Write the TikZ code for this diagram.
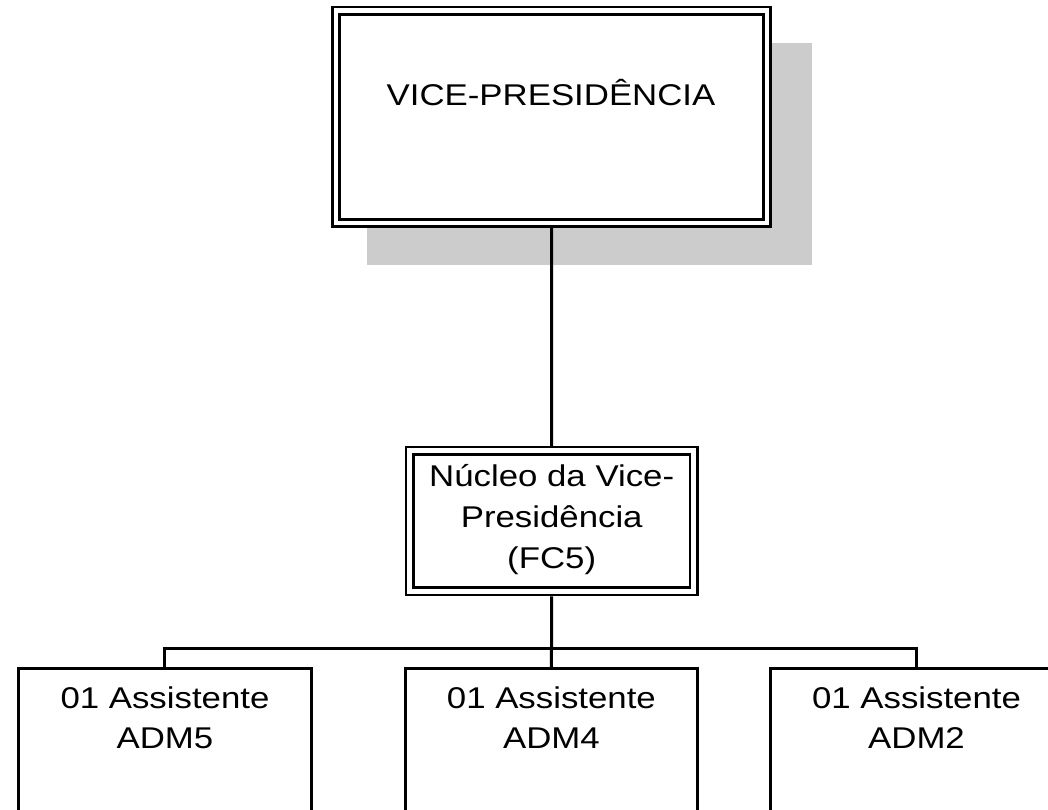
\documentclass[tikz,border=0pt]{standalone}
\usepackage{fontspec}
\setmainfont{Liberation Sans}[FakeStretch=1.16]
\definecolor{shadowgray}{HTML}{CCCCCC}
\begin{document}
\begin{tikzpicture}[x=1pt,y=-1pt,
  dbox/.style={draw, fill=white, double, double distance=4.6pt, line width=2.7pt,
    inner sep=0pt, outer sep=5pt},
  sbox/.style={draw, fill=white, line width=3pt, inner sep=0pt, outer sep=0pt,
    minimum height=170pt, anchor=north},
  conn/.style={line width=3pt},
  lbl/.style={inner sep=0pt, anchor=base, font=\fontsize{30}{41}\selectfont},
  lbl2/.style={inner sep=0pt, anchor=base, font=\fontsize{30}{40}\selectfont}]
\useasboundingbox (0,0) rectangle (1048,809);
\clip (0,0) rectangle (1048,809);
% shadow of the top box
\fill[shadowgray] (367,43) rectangle (812,265);
% boxes
\node[dbox, minimum width=431pt, minimum height=212.5pt] (vp) at (551.5,116.9) {};
\node[dbox, minimum width=284pt, minimum height=140.5pt] (nuc) at (551.7,521) {};
\node[sbox, minimum width=293pt] (a1) at (164.5,668) {};
\node[sbox, minimum width=291.3pt] (a2) at (551.4,668) {};
\node[sbox, minimum width=292pt] (a3) at (916.9,668) {};
% texts
\node[lbl] (vpt) at (551,105) {VICE-PRESIDÊNCIA};
\node[lbl] (nuct) at (551.7,486.7) {\begin{tabular}[t]{@{}c@{}}Núcleo da Vice-\\Presidência\\(FC5)\end{tabular}};
\node[lbl2] (a1t) at (165,708) {\begin{tabular}[t]{@{}c@{}}01 Assistente\\ADM5\end{tabular}};
\node[lbl2] (a2t) at (551.4,708) {\begin{tabular}[t]{@{}c@{}}01 Assistente\\ADM4\end{tabular}};
\node[lbl2] (a3t) at (916.5,708) {\begin{tabular}[t]{@{}c@{}}01 Assistente\\ADM2\end{tabular}};
% connectors
\coordinate (bus) at (551.5,648);
\draw[conn] (vp.south) -- (nuc.north);
\draw[conn] (nuc.south) -- (bus);
\draw[conn] (bus) -- (a2.north);
\draw[conn] (a1.north) |- (bus) -| (a3.north);
\end{tikzpicture}
\end{document}
